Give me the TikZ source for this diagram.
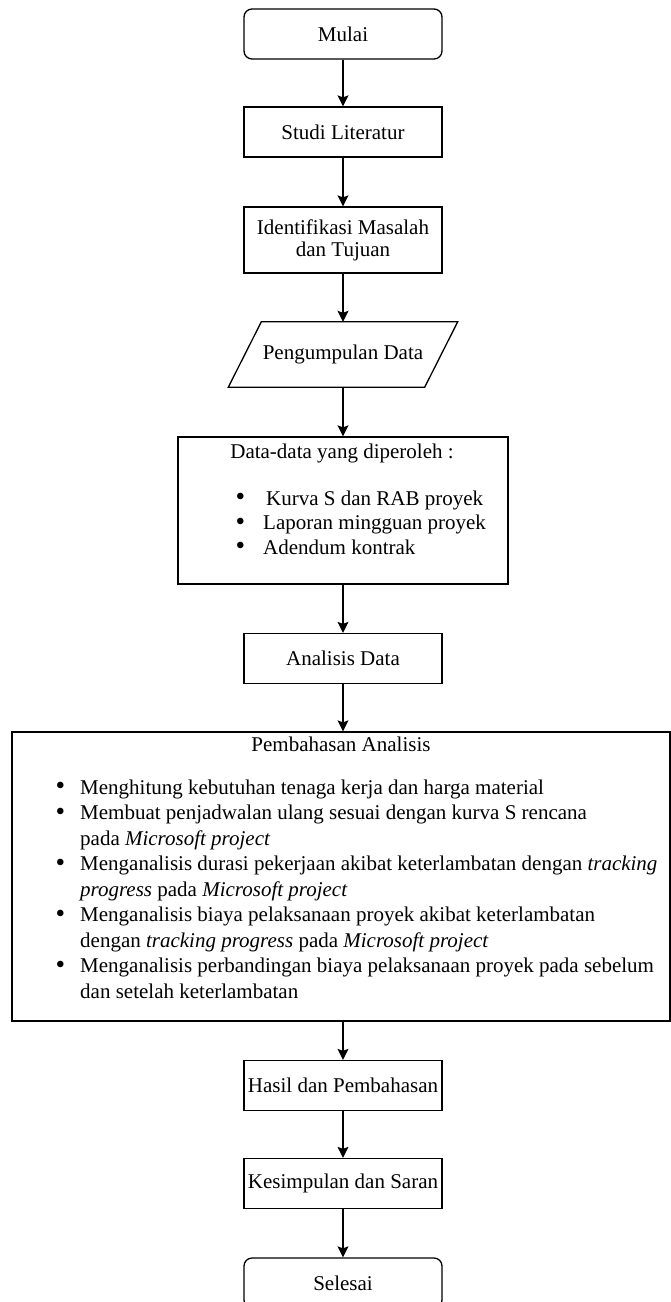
\documentclass[tikz,border=0pt]{standalone}
\usepackage{fontspec}
\setmainfont{Liberation Serif}
\usetikzlibrary{arrows.meta,calc}
\newcommand{\bigbul}{\raisebox{-0.6pt}{\scalebox{1.3}{\textbullet}}}
\tikzset{
  txt/.style={font=\fontsize{21}{25.5}\selectfont, inner sep=0pt},
  proc/.style={txt, draw, line width=1.3pt, minimum width=198pt, minimum height=50pt, align=center},
  term/.style={proc, rounded corners=8pt},
  frame/.style={draw, line width=1.3pt, inner sep=0pt},
  arr/.style={line width=1.3pt, -{Stealth[length=11pt,width=11pt,inset=2pt]}},
}
\begin{document}
\begin{tikzpicture}[x=1pt,y=-1pt]
\useasboundingbox (0,0) rectangle (671,1302);
\node[term] (mulai) at (343,34) {Mulai};
\node[proc] (studi) at (343,132) {Studi Literatur};
\node[proc, minimum height=66pt] (ident) at (343,240) {Identifikasi Masalah\\[-3.5pt]dan Tujuan};
\node[txt, minimum width=196pt, minimum height=65pt] (pd) at (343,354.5) {Pengumpulan Data};
\draw[line width=1.3pt] ($(pd.north west)+(16.5,0)$) -- ($(pd.north east)+(16.5,0)$) -- ($(pd.south east)+(-16.5,0)$) -- ($(pd.south west)+(-16.5,0)$) -- cycle;
\node[frame, minimum width=330pt, minimum height=147pt] (data) at (343,510.5) {};
\node[txt, anchor=base] (datat) at (342,458) {Data-data yang diperoleh :};
\node[txt, font=\fontsize{21}{24.5}\selectfont, anchor=base west] (datal) at (235.5,505) {\begin{tabular}[t]{@{}p{27.5pt}@{}l@{}}
\bigbul & \hspace{3pt}Kurva S dan RAB proyek\\
\bigbul & Laporan mingguan proyek\\
\bigbul & Adendum kontrak
\end{tabular}};
\node[proc] (anal) at (343,658.5) {Analisis Data};
\node[frame, minimum width=658pt, minimum height=289pt] (pemb) at (341,876.5) {};
\node[txt, anchor=base] (pembt) at (341,751) {Pembahasan Analisis};
\node[txt, anchor=base west] (pembl) at (55.5,794) {\begin{tabular}[t]{@{}p{24.5pt}@{}l@{}}
\bigbul & Menghitung kebutuhan tenaga kerja dan harga material\\
\bigbul & Membuat penjadwalan ulang sesuai dengan kurva S rencana\\
 & pada \textit{Microsoft project}\\
\bigbul & Menganalisis durasi pekerjaan akibat keterlambatan dengan \textit{tracking}\\
 & \textit{progress} pada \textit{Microsoft project}\\
\bigbul & Menganalisis biaya pelaksanaan proyek akibat keterlambatan\\
 & dengan \textit{tracking progress} pada \textit{Microsoft project}\\
\bigbul & Menganalisis perbandingan biaya pelaksanaan proyek pada sebelum\\
 & dan setelah keterlambatan
\end{tabular}};
\node[proc] (hasil) at (343,1085.5) {Hasil dan Pembahasan};
\node[proc] (kes) at (343,1183.5) {Kesimpulan dan Saran};
\node[term] (sel) at (343,1283) {Selesai};
\draw[arr] (mulai.south) -- (studi.north);
\draw[arr] (studi.south) -- (ident.north);
\draw[arr] (ident.south) -- (pd.north);
\draw[arr] (pd.south) -- (data.north);
\draw[arr] (data.south) -- (anal.north);
\draw[arr] (anal.south) -- (anal.south |- pemb.north);
\draw[arr] (hasil.north |- pemb.south) -- (hasil.north);
\draw[arr] (hasil.south) -- (kes.north);
\draw[arr] (kes.south) -- (sel.north);
\end{tikzpicture}
\end{document}
